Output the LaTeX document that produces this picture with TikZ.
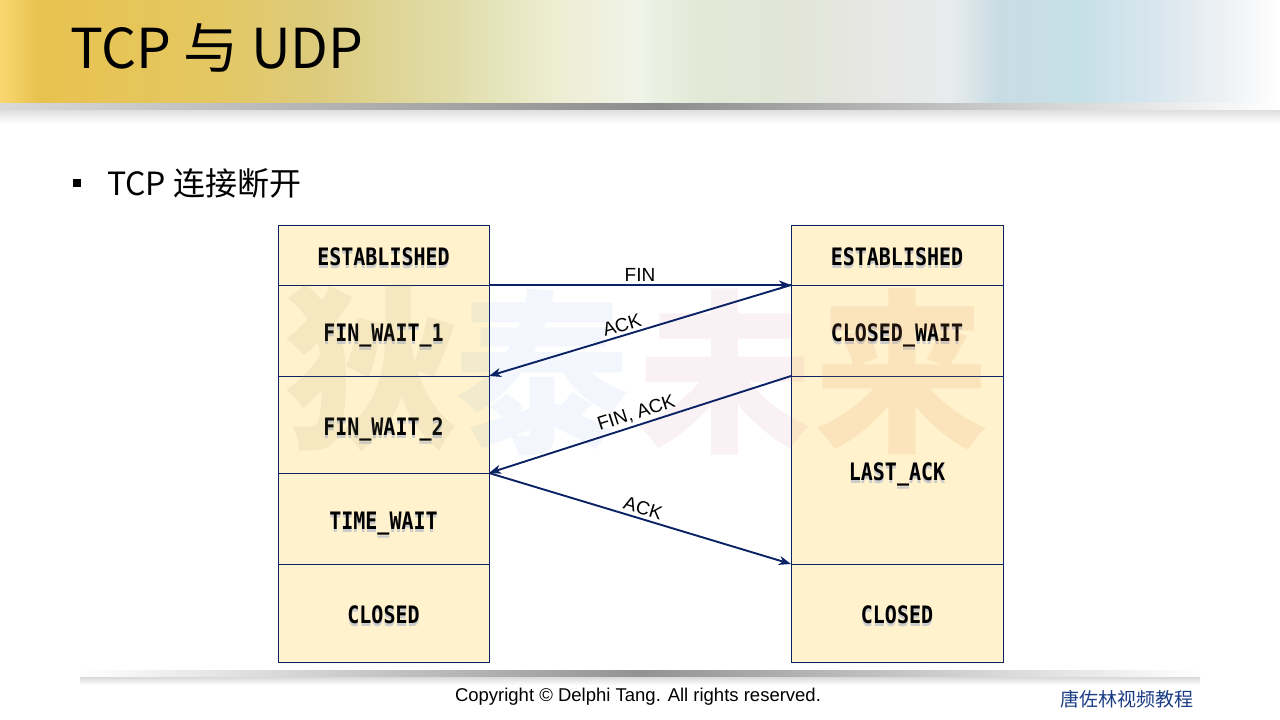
\documentclass[tikz,border=0pt]{standalone}
\usepackage{fontspec}
\setmainfont{Liberation Sans}
\newfontfamily\cjk{Noto Sans CJK SC}
\newfontfamily\statefont{DejaVu Sans Mono}
\usetikzlibrary{positioning,arrows.meta}

\definecolor{navy}{HTML}{0B2365}
\definecolor{boxfill}{HTML}{FFF2CC}
\definecolor{footblue}{HTML}{1A3C85}
\definecolor{wmolive}{HTML}{A09060}
\definecolor{wmblue}{HTML}{648CDC}
\definecolor{wmpink}{HTML}{C8648C}
\definecolor{wmorange}{HTML}{E68C50}

% title bar colours, x in px mapped to 25bp..75bp
\pgfdeclarehorizontalshading{titlebar}{100bp}{
  color(0bp)=(white);
  color(25bp)=(rgb,255:red,249;green,216;blue,112);
  color(26.5bp)=(rgb,255:red,232;green,194;blue,80);
  color(33bp)=(rgb,255:red,228;green,199;blue,96);
  color(37bp)=(rgb,255:red,221;green,202;blue,122);
  color(42.5bp)=(rgb,255:red,224;green,220;blue,168);
  color(46.5bp)=(rgb,255:red,236;green,237;blue,208);
  color(50bp)=(rgb,255:red,240;green,243;blue,232);
  color(52.3bp)=(rgb,255:red,226;green,233;blue,214);
  color(56.2bp)=(rgb,255:red,226;green,229;blue,216);
  color(60bp)=(rgb,255:red,232;green,232;blue,232);
  color(62.1bp)=(rgb,255:red,232;green,236;blue,236);
  color(64bp)=(rgb,255:red,200;green,220;blue,228);
  color(67.2bp)=(rgb,255:red,198;green,224;blue,232);
  color(70bp)=(rgb,255:red,216;green,230;blue,238);
  color(73bp)=(rgb,255:red,240;green,242;blue,244);
  color(75bp)=(white);
  color(100bp)=(white)}

\newcommand\stxt[1]{\scalebox{1}[1.2]{\rlap{\textcolor{black!20}{\smash{\raisebox{-2.5pt}{#1}}}}#1}}

\tikzset{
  state/.style={rectangle, draw=navy, fill=boxfill, line width=0.9pt,
    minimum width=211pt, inner sep=0pt, outer sep=0pt,
    text height=21pt, text depth=0pt,
    font=\statefont\bfseries\fontsize{20}{20}\selectfont},
  msg/.style={draw=navy, line width=1.9pt,
    -{Stealth[length=12pt,width=9pt,inset=3.5pt]}},
  msglabel/.style={font=\fontsize{19}{19}\selectfont, sloped, above, inner sep=3pt},
  wm/.style={font=\cjk\bfseries\fontsize{175}{175}\selectfont, inner sep=0pt}
}

\begin{document}
\begin{tikzpicture}[x=1pt, y=-1pt]
\useasboundingbox (0,0) rectangle (1280,720);

% title bar and its shadow
\shade[shading=titlebar] (0,0) rectangle (1280,103);
\shade[left color=gray!30, right color=gray!90] (0,103) rectangle (660,110);
\shade[left color=gray!90, right color=white] (660,103) rectangle (1280,110);
\shade[top color=gray!25, bottom color=white] (0,110) rectangle (1280,124);
\node[font=\cjk\fontsize{55}{55}\selectfont, anchor=base west, inner sep=0pt]
  (title) at (70,68) {TCP 与 UDP};

% bullet line
\node[fill=black, minimum size=8pt, inner sep=0pt] (bullet) at (77,182.5) {};
\node[font=\cjk\fontsize{32}{32}\selectfont, anchor=base west, inner sep=0pt]
  (subtitle) at (107,195) {TCP 连接断开};

% client states
\node[state, minimum height=60pt] (lest) at (383.5,255) {\stxt{ESTABLISHED}};
\node[state, minimum height=91pt, below=0pt of lest] (lfw1) {\stxt{FIN\_WAIT\_1}};
\node[state, minimum height=97pt, below=0pt of lfw1] (lfw2) {\stxt{FIN\_WAIT\_2}};
\node[state, minimum height=91pt, below=0pt of lfw2] (ltw) {\stxt{TIME\_WAIT}};
\node[state, minimum height=98pt, below=0pt of ltw] (lcl) {\stxt{CLOSED}};

% server states
\node[state, minimum width=212pt, minimum height=60pt] (rest) at (897,255) {\stxt{ESTABLISHED}};
\node[state, minimum width=212pt, minimum height=91pt, below=0pt of rest] (rcw) {\stxt{CLOSED\_WAIT}};
\node[state, minimum width=212pt, minimum height=188pt, below=0pt of rcw] (rla) {\stxt{LAST\_ACK}};
\node[state, minimum width=212pt, minimum height=98pt, below=0pt of rla] (rcl) {\stxt{CLOSED}};

% watermark
\node[wm, text=wmolive, opacity=0.10] (wm1) at (372,368) {狄};
\node[wm, text=wmblue, opacity=0.08] (wm2) at (542,372) {泰};
\node[wm, text=wmpink, opacity=0.09] (wm3) at (725,372) {未};
\node[wm, text=wmorange, opacity=0.13] (wm4) at (902,372) {来};

% messages
\draw[msg] (lest.south east) -- node[msglabel] {FIN} (rest.south west);
\draw[msg] (rest.south west) -- node[msglabel, pos=0.55] {ACK} (lfw1.south east);
\draw[msg] (rcw.south west) -- node[msglabel] {FIN, ACK} (lfw2.south east);
\draw[msg] (lfw2.south east) -- node[msglabel] {ACK} (rla.south west);

% footer
\shade[left color=white, right color=gray!85] (80,670) rectangle (640,677);
\shade[left color=gray!85, right color=white] (640,670) rectangle (1200,677);
\shade[top color=gray!30, bottom color=white] (80,677) rectangle (1200,685);
\node[font=\fontsize{18.5}{18.5}\selectfont] (copy) at (638,697)
  {Copyright © Delphi Tang. All rights reserved.};
\node[font=\cjk\fontsize{19}{19}\selectfont, text=footblue] (course) at (1127,699)
  {唐佐林视频教程};
\end{tikzpicture}
\end{document}
